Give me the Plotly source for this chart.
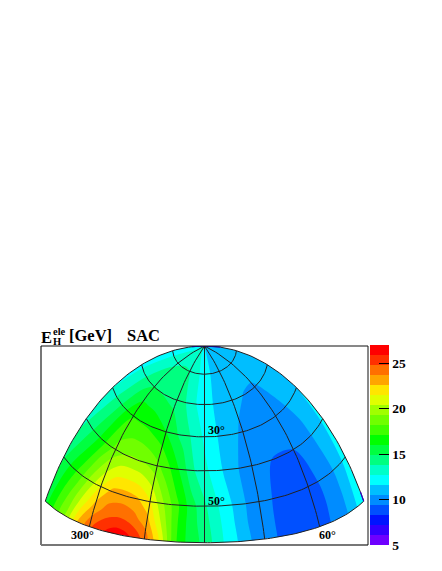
import numpy as np
import plotly.graph_objects as go

# --- data ---
lam_nodes = [-180, -150, -135, -120, -105, -90, -75, -60, -45, -30, -15, 0, 15, 30, 45, 60, 90, 120, 150, 165, 180]
colat_nodes = [0, 10, 20, 30, 40, 50, 55, 60, 66]
z_c0  = [12.0, 12.3, 12.4, 12.5, 12.6, 12.7, 12.7, 12.7, 12.6, 12.5, 12.3, 12.0, 11.7, 11.4, 11.2, 11.2, 11.2, 11.2, 11.2, 11.2, 11.2]
z_c10 = [12.1, 12.9, 13.3, 13.6, 13.8, 13.9, 13.9, 13.8, 13.4, 13.0, 12.6, 12.2, 11.8, 11.4, 11.2, 11.1, 11.1, 11.0, 11.1, 11.2, 11.3]
z_c20 = [12.3, 13.8, 14.5, 14.9, 14.9, 14.8, 14.6, 14.4, 14.1, 13.3, 12.6, 12.1, 11.7, 11.2, 11.0, 10.8, 10.45, 10.4, 10.85, 11.1, 11.4]
z_c30 = [12.7, 14.7, 16.0, 17.0, 17.0, 16.9, 16.5, 16.0, 15.1, 14.3, 13.4, 12.5, 11.8, 11.2, 10.7, 10.3, 9.9, 10.1, 10.6, 11.0, 11.6]
z_c40 = [13.5, 15.8, 17.3, 18.6, 19.3, 19.4, 19.2, 18.5, 17.3, 15.8, 14.0, 13.0, 12.1, 11.1, 10.4, 9.9, 9.35, 9.4, 10.4, 11.1, 11.8]
z_c50 = [14.7, 17.7, 19.7, 21.5, 22.9, 23.1, 22.8, 21.6, 19.4, 17.4, 15.5, 14.0, 12.7, 11.6, 10.5, 9.8, 9.0, 8.95, 9.95, 11.1, 12.0]
z_c55 = [15.1, 18.7, 21.0, 23.0, 24.2, 24.5, 24.1, 23.0, 20.3, 17.4, 15.5, 14.3, 12.9, 11.7, 10.5, 9.8, 8.9, 8.9, 9.9, 11.2, 12.2]
z_c60 = [15.5, 19.5, 22.6, 24.6, 25.8, 26.6, 25.9, 24.4, 21.5, 17.4, 15.5, 14.6, 13.0, 11.85, 10.6, 9.8, 8.9, 8.9, 10.0, 11.2, 12.5]
# row beyond the map rim, hidden under the white surround: keeps the rim's colours clean
z_rim = z_c60
z_rows = [z_c0, z_c10, z_c20, z_c30, z_c40, z_c50, z_c55, z_c60, z_rim]

band_colors = ["#6e00ff", "#3200ff", "#0014ff", "#0050ff", "#008cff", "#00beff", "#00ffff",
               "#00ffc8", "#00ff80", "#00ff40", "#00ff00", "#40ff00", "#70ff00", "#a0ff00",
               "#e0ff00", "#ffe600", "#ffa500", "#ff7000", "#ff3000", "#ff0000"]
cbar_ticks = [5, 10, 15, 20, 25]
meridians = [-120, -60, 0, 60, 120]
parallels = [10, 20, 30, 40, 50]

# --- layout in pixels (the page body adds an 8 px margin) ---
PAGE = 8
W, H = 442 - PAGE, 571 - PAGE
L, R, T, B = 41, 368, 346, 545.5
SX, SY = 65.0, 220.0


def hammer(lam, colat):
    lam, colat = np.radians(lam), np.radians(colat)
    phi = np.pi / 2 - colat
    d = np.sqrt(1 + np.cos(phi) * np.cos(lam / 2))
    return 2 * np.sqrt(2) * np.cos(phi) * np.sin(lam / 2) / d, np.sqrt(2) * np.sin(phi) / d


xr = [(L - 204.5) / SX, (R - 204.5) / SX]
yr = [np.sqrt(2) - (B - T) / SY, np.sqrt(2)]


def px(x):
    return (x - L) / (R - L)


def py(y):
    return (B - y) / (B - T)


a_fine = np.arange(-180, 181, 5.0)
b_fine = np.arange(0, 66.01, 2.5)
b_fine = np.append(b_fine, 66.0) if b_fine[-1] < 66 else b_fine
AA, BB = np.meshgrid(a_fine, b_fine)
CX, CY = hammer(AA, BB)

n = len(band_colors)
cs = []
for i, c in enumerate(band_colors):
    cs += [[i / n, c], [(i + 1) / n, c]]

axis_off = dict(showgrid=False, showticklabels="none", startline=False, endline=False,
                minorgridcount=0, smoothing=0, title="", showline=False)

fig = go.Figure()
fig.add_trace(go.Carpet(a=a_fine, b=b_fine, x=CX, y=CY, carpet="c", aaxis=axis_off, baxis=axis_off))
fig.add_trace(go.Contourcarpet(
    a=lam_nodes, b=colat_nodes, z=z_rows, carpet="c",
    zmin=5, zmax=27, autocontour=False, colorscale=cs,
    contours=dict(start=6.1, end=25.9, size=1.1, coloring="fill", showlines=False),
    line=dict(width=0, smoothing=0.9),
    colorbar=dict(x=(370 - L) / (R - L), xanchor="left", xpad=0, ypad=0, y=0, yanchor="bottom",
                  lenmode="pixels", len=B - T, thicknessmode="pixels", thickness=19,
                  outlinewidth=0, tickmode="array", tickvals=cbar_ticks, ticks="inside",
                  ticklen=10, tickwidth=1, tickcolor="black",
                  tickfont=dict(family="Liberation Serif", size=13.5, color="black", weight="bold")),
))

ll = np.arange(-180, 180.1, 3.0)
cc = np.arange(0, 60.01, 1.0)

# white surround of the map, so the outside of the map stays clean
ex1, ey1 = hammer(np.full_like(cc, -180.0), cc)
ex2, ey2 = hammer(ll, np.full_like(ll, 60.0))
ex3, ey3 = hammer(np.full_like(cc, 180.0), cc[::-1])
mx = list(ex1) + list(ex2) + list(ex3) + [xr[1], xr[1], xr[0], xr[0], 0]
my = list(ey1) + list(ey2) + list(ey3) + [yr[1], yr[0], yr[0], yr[1], yr[1]]
fig.add_trace(go.Scatter(x=mx, y=my, mode="lines", fill="toself", fillcolor="white",
                         line=dict(width=0, color="white"), hoverinfo="skip", showlegend=False))

gx, gy = [], []
for p in parallels + [60]:
    x, y = hammer(ll, np.full_like(ll, p))
    gx += list(x) + [None]
    gy += list(y) + [None]
for m in meridians + [-180, 180]:
    x, y = hammer(np.full_like(cc, m), cc)
    gx += list(x) + [None]
    gy += list(y) + [None]
fig.add_trace(go.Scatter(x=gx, y=gy, mode="lines", line=dict(color="#222222", width=1),
                         hoverinfo="skip", showlegend=False))

# small dark rims seen at the pole and at the right-hand corner
rim_segments = [(-180, 0, 4), (180, 0, 5), (180, 58, 60)]
for lam, c0, c1 in rim_segments:
    c = np.linspace(c0, c1, 12)
    x, y = hammer(np.full_like(c, lam), c)
    fig.add_trace(go.Scatter(x=x, y=y, mode="lines", line=dict(color="#3200c8", width=1.2),
                             hoverinfo="skip", showlegend=False))

frame = [(0, 0, 0, 1, "#777777", 2), (0, 0, 1, 0, "#777777", 2),
         (0, 1, 1, 1, "#111111", 1), (1, 0, 1, 1, "#111111", 1)]
shapes = [dict(type="line", xref="paper", yref="paper", x0=a, y0=b, x1=c, y1=d,
               line=dict(color=col, width=w), layer="above") for a, b, c, d, col, w in frame]

fig.update_layout(
    width=W, height=H, margin=dict(l=L - PAGE, r=W - (R - PAGE), t=T - PAGE, b=H - (B - PAGE)),
    paper_bgcolor="white", plot_bgcolor="white", showlegend=False, shapes=shapes,
    xaxis=dict(range=xr, visible=False),
    yaxis=dict(range=yr, visible=False),
)

font = dict(family="Liberation Serif", color="black", weight="bold")
labels = [("300°", 82, 535, 12), ("60°", 327, 535, 12), ("30°", 217, 430, 12), ("50°", 217, 501, 12),
          ("E", 46.5, 337, 16.5), ("ele", 59, 331, 10.5), ("H", 57, 341, 10.5),
          ("[GeV]", 90, 335.5, 16.5), ("SAC", 143.5, 335, 16.5)]
for txt, x, y, s in labels:
    fig.add_annotation(text=txt, x=px(x), y=py(y), xref="paper", yref="paper", showarrow=False,
                       font=dict(size=s, **font), xanchor="center", yanchor="middle")

fig.write_html("out.html")
